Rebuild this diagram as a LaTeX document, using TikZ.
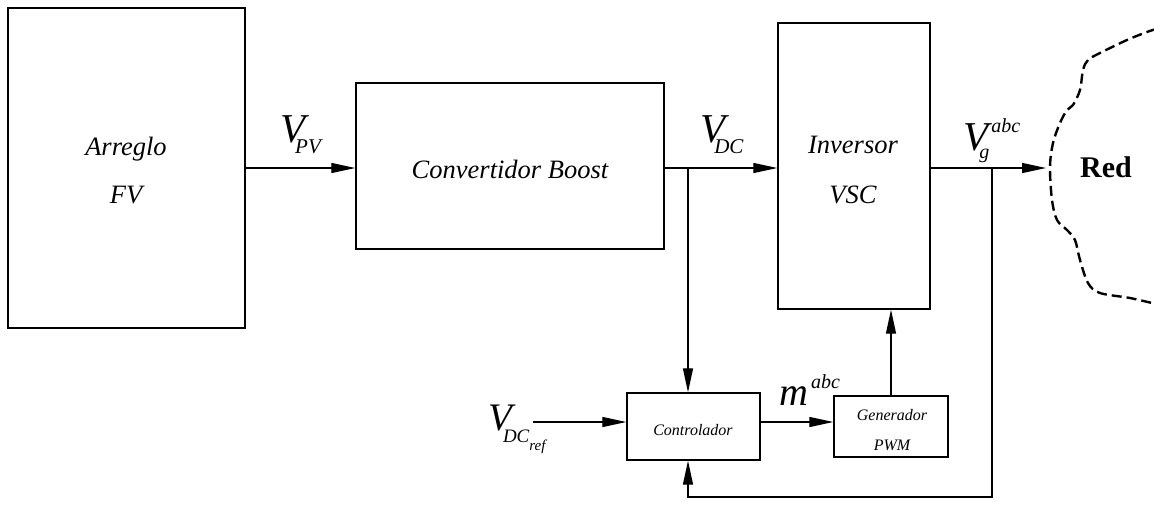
\documentclass[tikz,border=0pt]{standalone}
\usepackage{fontspec}
\setmainfont{Liberation Serif}
\usetikzlibrary{arrows.meta}
\newcommand{\fs}[1]{\fontsize{#1}{#1}\selectfont}
\begin{document}
\begin{tikzpicture}[x=1pt,y=-1pt,
  blk/.style={draw, line width=1.4pt, inner sep=0pt},
  arr/.style={-{Triangle[length=24pt,width=10pt]}, line width=1.3pt},
  txt/.style={inner sep=0pt, anchor=base, font=\itshape},
  lbl/.style={inner sep=0pt, anchor=base west, font=\itshape}]
\useasboundingbox (0,0) rectangle (1154,531);
% blocks
\node[blk, minimum width=237pt, minimum height=320pt] (fv) at (126.5,168) {};
\node[blk, minimum width=308pt, minimum height=166pt] (boost) at (510,166) {};
\node[blk, minimum width=152pt, minimum height=286pt] (inv) at (854,166) {};
\node[blk, minimum width=133pt, minimum height=67pt] (ctrl) at (693.5,426.5) {};
\node[blk, minimum width=114pt, minimum height=61pt] (pwm) at (891,426.5) {};
% texts
\node[txt] (fv1) at (126,155) {\fs{26.5}Arreglo};
\node[txt] (fv2) at (126,203) {\fs{26.5}FV};
\node[txt] (bt) at (510,178) {\fs{26.5}Convertidor Boost};
\node[txt] (inv1) at (853,153) {\fs{26.5}Inversor};
\node[txt] (inv2) at (853,203) {\fs{26.5}VSC};
\node[txt] (ct) at (693,435) {\fs{16}Controlador};
\node[txt] (pw1) at (892,420) {\fs{16}Generador};
\node[txt] (pw2) at (892,450) {\fs{16}PWM};
% cloud
\draw[line width=2.4pt, dash pattern=on 10pt off 5pt] plot[smooth, tension=0.55] coordinates {
 (1156,29) (1147,32) (1127,40) (1100,53) (1088,60) (1083,70) (1080,90) (1073,105) (1067,110)
 (1060,123) (1053,143) (1050,167) (1052,200) (1057,220) (1067,230) (1075,240) (1080,260)
 (1088,283) (1100,293) (1130,298) (1156,304)};
\node[inner sep=0pt, anchor=base, font=\bfseries] (red) at (1106,177) {\fs{30}Red};
\coordinate (redin) at (1046,168);
% coordinates
\coordinate (j1) at (688,168);
\coordinate (j2) at (992,168);
\coordinate (fb1) at (992,497);
\coordinate (fb2) at (688,497);
\coordinate (vref) at (533,422);
% connectors
\draw[arr] (fv.east |- 0,168) -- (boost.west |- 0,168);
\draw[arr] (boost.east |- 0,168) -- (inv.west |- 0,168);
\draw[arr] (inv.east |- 0,168) -- (redin);
\draw[arr] (j1) -- (ctrl.north -| j1);
\draw[arr] (j2) -- (fb1) -- (fb2) -- (ctrl.south -| fb2);
\draw[arr] (vref) -- (ctrl.west |- vref);
\draw[arr] (ctrl.east |- 0,422) -- (pwm.west |- 0,422);
\draw[arr] (pwm.north) -- (inv.south -| pwm.north);
% labels
\node[lbl] (lpv) at (280,142) {\fs{41}V\hspace{-10pt}\raisebox{-11pt}{\fs{21}PV}};
\node[lbl] (ldc) at (700,142) {\fs{41}V\hspace{-11pt}\raisebox{-11pt}{\fs{21}DC}};
\node[lbl] (lg) at (963,150) {\fs{41}V\hspace{-9pt}\rlap{\raisebox{-8pt}{\fs{20}g}}\hspace{12pt}\raisebox{18pt}{\fs{20}abc}};
\node[lbl] (lm) at (779,405) {\fs{40}m\hspace{3pt}\raisebox{17pt}{\fs{20}abc}};
\node[lbl] (lref) at (488,430) {\fs{39}V\hspace{-9pt}\raisebox{-12pt}{\fs{19}DC}\raisebox{-20pt}{\fs{15}ref}};
\end{tikzpicture}
\end{document}
